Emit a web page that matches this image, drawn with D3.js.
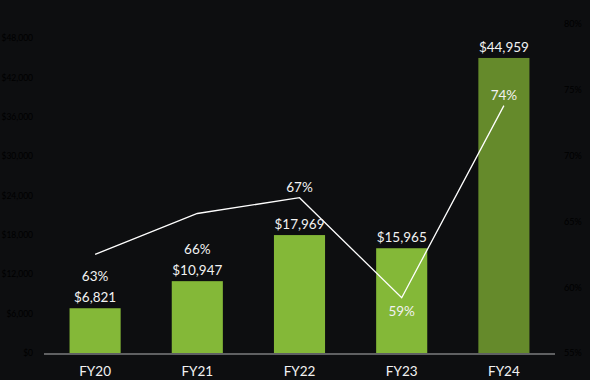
<!DOCTYPE html>
<html>
<head>
<meta charset="utf-8">
<script src="https://cdn.jsdelivr.net/npm/d3@7"></script>
<style>
  html, body { margin: 0; padding: 0; background: #0d0e10; }
  svg { display: block; }
  text { font-family: Lato, "Open Sans", sans-serif; }
</style>
</head>
<body>
<svg id="chart" width="590" height="380"></svg>
<script>
const categories = ["FY20", "FY21", "FY22", "FY23", "FY24"];
const revenue = [6821, 10947, 17969, 15965, 44959];
const grossMargin = [62.5, 65.6, 66.8, 59.2, 73.8];
const revenueTicks = [0, 6000, 12000, 18000, 24000, 30000, 36000, 42000, 48000];
const marginTicks = [55, 60, 65, 70, 75, 80];
const title = "Revenue ($ in millions) and Gross Margin (percentage)";

const W = 590, H = 380;
const svg = d3.select("#chart");
svg.append("rect").attr("width", W).attr("height", H).attr("fill", "#0d0e10");

const x = d3.scaleBand().domain(categories).range([44, 555]).paddingInner(0.5).paddingOuter(0.25);
const yL = d3.scaleLinear().domain([0, 48000]).range([353, 38]);
const yR = d3.scaleLinear().domain([55, 80]).range([353, 24]);

// title (mostly cropped at top, as in the reference)
svg.append("text").attr("x", 305).attr("y", -2).attr("text-anchor", "middle")
  .attr("fill", "#ffffff").attr("font-size", 13).text(title);

// left axis
const leftAxis = d3.axisLeft(yL).tickValues(revenueTicks).tickSize(0).tickPadding(0)
  .tickFormat(d => "$" + d3.format(",")(d));
const gL = svg.append("g").attr("transform", "translate(33,0)").call(leftAxis);
gL.select(".domain").remove();
gL.selectAll("text").attr("fill", "#000000").attr("font-size", 8.5)
  .style("font-family", "Lato, 'Open Sans', sans-serif");

// right axis
const rightAxis = d3.axisRight(yR).tickValues(marginTicks).tickSize(0).tickPadding(0)
  .tickFormat(d => d + "%");
const gR = svg.append("g").attr("transform", "translate(564,0)").call(rightAxis);
gR.select(".domain").remove();
gR.selectAll("text").attr("fill", "#000000").attr("font-size", 9)
  .style("font-family", "Lato, 'Open Sans', sans-serif");

// bars
const barColors = ["#84b838", "#84b838", "#84b838", "#84b838", "#658a2b"];
svg.append("g").selectAll("rect").data(revenue).join("rect")
  .attr("x", (d, i) => x(categories[i]))
  .attr("width", x.bandwidth())
  .attr("y", d => yL(d))
  .attr("height", d => yL(0) - yL(d))
  .attr("fill", (d, i) => barColors[i]);

// baseline
svg.append("line").attr("x1", 44).attr("x2", 555).attr("y1", 354).attr("y2", 354)
  .attr("stroke", "#5f6062").attr("stroke-width", 2);

// x axis labels
const bottomAxis = d3.axisBottom(x).tickSize(0).tickPadding(0);
const gB = svg.append("g").attr("transform", "translate(0,366)").call(bottomAxis);
gB.select(".domain").remove();
gB.selectAll("text").attr("fill", "#f2f2f2").attr("font-size", 13.5)
  .attr("dy", "0.71em")
  .style("font-family", "Lato, 'Open Sans', sans-serif");

// margin line
const cx = c => x(c) + x.bandwidth() / 2;
const line = d3.line().x((d, i) => cx(categories[i])).y(d => yR(d));
svg.append("path").datum(grossMargin).attr("d", line)
  .attr("fill", "none").attr("stroke", "#ffffff").attr("stroke-width", 1.3);

// revenue labels
svg.append("g").selectAll("text").data(revenue).join("text")
  .attr("x", (d, i) => cx(categories[i]))
  .attr("y", d => yL(d) - 6)
  .attr("text-anchor", "middle").attr("fill", "#f2f2f2").attr("font-size", 13.5)
  .text(d => "$" + d3.format(",")(d));

// margin labels
const placement = ["stack", "stack", "above", "below", "above"];
svg.append("g").selectAll("text").data(grossMargin).join("text")
  .attr("x", (d, i) => cx(categories[i]))
  .attr("y", (d, i) => {
    if (placement[i] === "stack") return yL(revenue[i]) - 27;
    if (placement[i] === "above") return yR(d) - 6;
    return yR(d) + 18;
  })
  .attr("text-anchor", "middle").attr("fill", "#f2f2f2").attr("font-size", 13.5)
  .text(d => Math.round(d) + "%");
</script>
</body>
</html>
